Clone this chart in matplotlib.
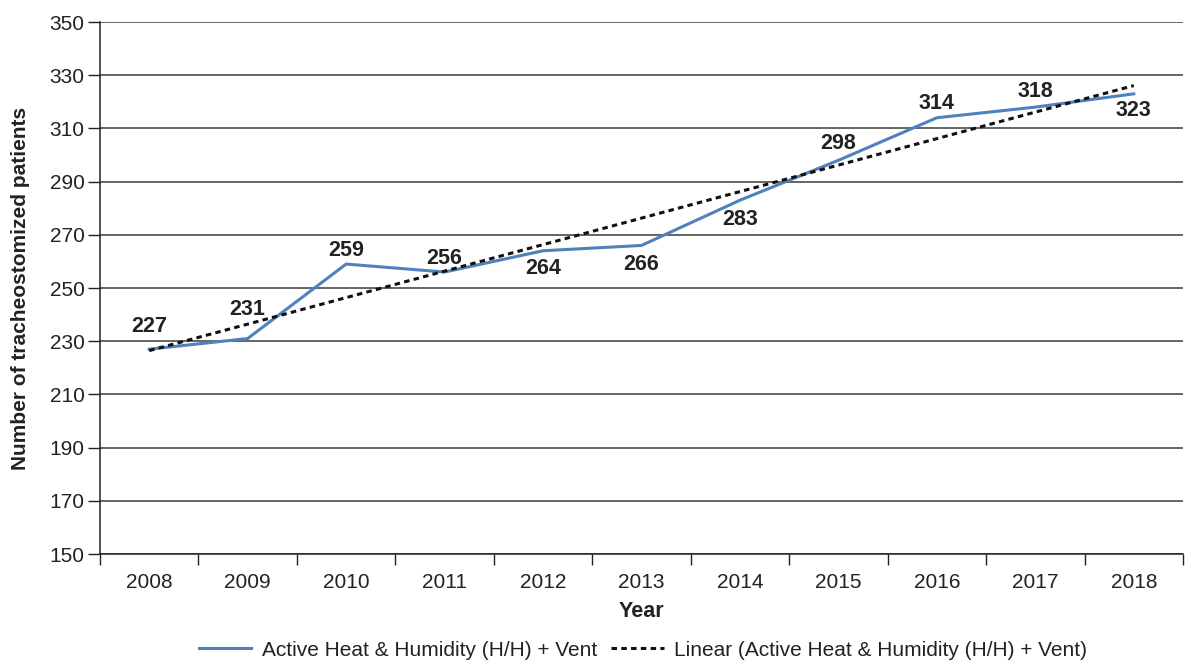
import numpy as np
import matplotlib
matplotlib.use("Agg")
import matplotlib.pyplot as plt
from matplotlib.ticker import FixedLocator, NullFormatter

plt.rcParams['font.family'] = ['Liberation Sans', 'DejaVu Sans']

years = ['2008', '2009', '2010', '2011', '2012', '2013', '2014', '2015', '2016', '2017', '2018']
patients = [227, 231, 259, 256, 264, 266, 283, 298, 314, 318, 323]
series_name = 'Active Heat & Humidity (H/H) + Vent'
trend_name = 'Linear (Active Heat & Humidity (H/H) + Vent)'
y_ticks = [150, 170, 190, 210, 230, 250, 270, 290, 310, 330, 350]

# label offsets in points (style)
label_offsets = [(0, 16), (0, 21), (0, 10), (0, 10), (0, -13), (0, -14), (0, -14), (0, 12), (0, 10), (0, 11), (0, -12)]

fig = plt.figure(figsize=(11.9, 6.61), dpi=100)
ax = fig.add_axes([100/1190, 1-554/661, 1083/1190, 532/661])

x = np.arange(len(years))
ax.plot(x, patients, color='#4F81BD', lw=2.2, zorder=3, label=series_name)

coef = np.polyfit(x, patients, 1)
trend = np.polyval(coef, x)
ax.plot(x, trend, color='#111111', lw=2.2, ls=(0, (1.8, 1.4)), zorder=4, label=trend_name)

for xi, v, off in zip(x, patients, label_offsets):
    ax.annotate(str(v), (xi, v), xytext=off, textcoords='offset points',
                ha='center', va='center', fontsize=15.5, fontweight='bold', color='#222222', zorder=5)

ax.set_xlim(-0.5, len(years) - 0.5)
ax.set_ylim(150, 350)
ax.set_yticks(y_ticks)
ax.set_xticks(x)
ax.set_xticklabels(years)
ax.xaxis.set_minor_locator(FixedLocator(np.arange(-0.5, len(years), 1.0)))
ax.xaxis.set_minor_formatter(NullFormatter())
ax.tick_params(axis='x', which='major', length=0, labelsize=15, pad=14, colors='#222222')
ax.tick_params(axis='x', which='minor', length=8, width=1, color='#222222', direction='out')
ax.tick_params(axis='y', length=9, width=1, labelsize=15, colors='#222222', pad=2, direction='out')

ax.grid(axis='y', color='#3a3a3a', lw=1.1, zorder=0)
ax.set_axisbelow(True)
for s in ['top', 'right']:
    ax.spines[s].set_visible(False)
for s in ['left', 'bottom']:
    ax.spines[s].set_color('#222222')
    ax.spines[s].set_linewidth(1.1)

ax.set_xlabel('Year', fontsize=15.5, fontweight='bold', labelpad=6, color='#222222')
ax.set_ylabel('Number of tracheostomized patients', fontsize=15, fontweight='bold', labelpad=14, color='#222222')

leg = fig.legend(loc='center', bbox_to_anchor=(643/1190, 1 - 650/661), ncol=2, frameon=False,
                 fontsize=15, handlelength=2.5, columnspacing=0.7, handletextpad=0.5)
for t in leg.get_texts():
    t.set_color('#222222')

fig.savefig('out.png', dpi=100)
